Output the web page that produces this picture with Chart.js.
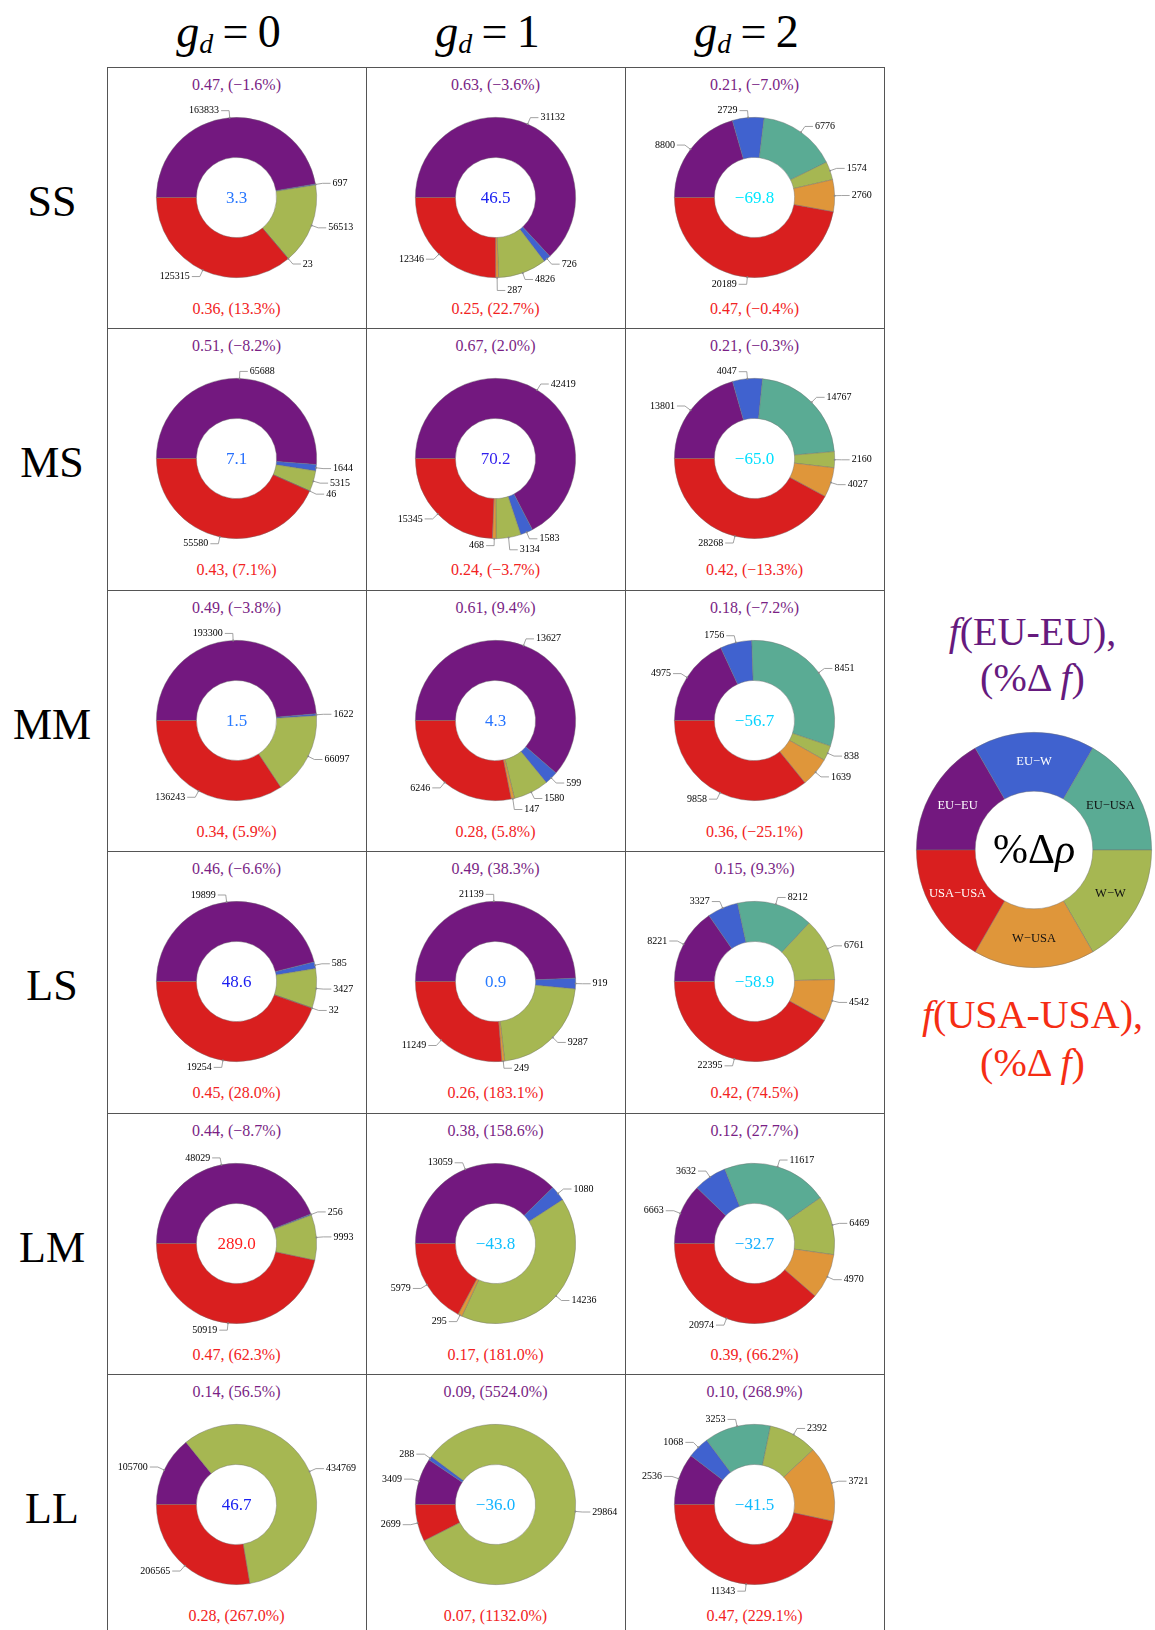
<!DOCTYPE html>
<html>
<head>
<meta charset="utf-8">
<title>Pair composition by g_d</title>
<script src="https://cdn.jsdelivr.net/npm/chart.js@4"></script>
<style>
  body{margin:0;background:#fff;width:1155px;height:1630px;overflow:hidden;position:relative;
       font-family:'Liberation Serif','Times New Roman',serif;}
  .abs{position:absolute;}
  .hline{position:absolute;height:1px;background:#555;}
  .vline{position:absolute;width:1px;background:#555;}
  .ctext{position:absolute;width:259px;text-align:center;font-size:16px;line-height:20px;white-space:nowrap;}
  .top{color:#7a1f85;} .bot{color:#f22222;}
  .head{position:absolute;width:200px;text-align:center;font-size:46px;line-height:60px;white-space:nowrap;}
  .row{position:absolute;left:2px;width:100px;text-align:center;font-size:44px;line-height:50px;}
  .ttl{position:absolute;left:905px;width:255px;text-align:center;font-size:40px;line-height:46px;white-space:nowrap;}
</style>
</head>
<body>
<div id="page"></div>
<script>
// slice order, clockwise from 9 o'clock
const pairTypes = ['EU−EU', 'EU−W', 'EU−USA', 'W−W', 'W−USA', 'USA−USA'];
const rowNames = ['SS', 'MS', 'MM', 'LS', 'LM', 'LL'];
const gdLabels = ['0', '1', '2'];

// pair counts, one list per g_d column, in pairTypes order
const countsSS = [[163833, 697, 0, 56513, 23, 125315], [31132, 726, 0, 4826, 287, 12346], [8800, 2729, 6776, 1574, 2760, 20189]];
const countsMS = [[65688, 1644, 0, 5315, 46, 55580], [42419, 1583, 0, 3134, 468, 15345], [13801, 4047, 14767, 2160, 4027, 28268]];
const countsMM = [[193300, 1622, 0, 66097, 0, 136243], [13627, 599, 0, 1580, 147, 6246], [4975, 1756, 8451, 838, 1639, 9858]];
const countsLS = [[19899, 585, 0, 3427, 32, 19254], [21139, 919, 0, 9287, 249, 11249], [8221, 3327, 8212, 6761, 4542, 22395]];
const countsLM = [[48029, 256, 0, 9993, 0, 50919], [13059, 1080, 0, 14236, 295, 5979], [6663, 3632, 11617, 6469, 4970, 20974]];
const countsLL = [[105700, 0, 0, 434769, 0, 206565], [3409, 288, 0, 29864, 0, 2699], [2536, 1068, 3253, 2392, 3721, 11343]];

// f(EU-EU), %delta f ; f(USA-USA), %delta f ; %delta rho  (rows x g_d)
const fEUEU = [[0.47, 0.63, 0.21], [0.51, 0.67, 0.21], [0.49, 0.61, 0.18], [0.46, 0.49, 0.15], [0.44, 0.38, 0.12], [0.14, 0.09, 0.10]];
const dfEUEU = [[-1.6, -3.6, -7.0], [-8.2, 2.0, -0.3], [-3.8, 9.4, -7.2], [-6.6, 38.3, 9.3], [-8.7, 158.6, 27.7], [56.5, 5524.0, 268.9]];
const fUSAUSA = [[0.36, 0.25, 0.47], [0.43, 0.24, 0.42], [0.34, 0.28, 0.36], [0.45, 0.26, 0.42], [0.47, 0.17, 0.39], [0.28, 0.07, 0.47]];
const dfUSAUSA = [[13.3, 22.7, -0.4], [7.1, -3.7, -13.3], [5.9, 5.8, -25.1], [28.0, 183.1, 74.5], [62.3, 181.0, 66.2], [267.0, 1132.0, 229.1]];
const dRho = [[3.3, 46.5, -69.8], [7.1, 70.2, -65.0], [1.5, 4.3, -56.7], [48.6, 0.9, -58.9], [289.0, -43.8, -32.7], [46.7, -36.0, -41.5]];
const legendShares = [1, 1, 1, 1, 1, 1];

const allCounts = [countsSS, countsMS, countsMM, countsLS, countsLM, countsLL];
const sliceColors = ['#73187f', '#4062cf', '#5aab94', '#a6b752', '#df963a', '#d91f1f'];
const legendTextColors = ['#fff', '#fff', '#111', '#111', '#111', '#fff'];

const SERIF = "'Liberation Serif','Times New Roman',serif";
const colX = [107, 366, 625];
const rowY = [67, 328, 590, 851, 1113, 1374];
const CW = 259;

const minus = (s) => s.replace('-', '−');
const fmt1 = (v) => minus(v.toFixed(1));

function rhoColor(v) {
  const lerp = (a, b, t) => a.map((x, i) => Math.round(x + (b[i] - x) * t));
  const base = [40, 125, 255];
  let c;
  if (v < 0) c = lerp(base, [0, 232, 255], Math.min(-v / 70, 1));
  else if (v <= 50) c = lerp(base, [25, 25, 240], v / 50);
  else if (v <= 100) c = lerp([25, 25, 240], [85, 40, 235], (v - 50) / 50);
  else c = lerp([85, 40, 235], [255, 30, 30], Math.min((v - 100) / 150, 1));
  return 'rgb(' + c.join(',') + ')';
}

// callout labels + centre value
const calloutPlugin = {
  id: 'callouts',
  afterDraw(chart, args, opts) {
    const ctx = chart.ctx;
    const meta = chart.getDatasetMeta(0);
    const values = chart.data.datasets[0].data;
    const items = [];
    let cx = 0, cy = 0;
    meta.data.forEach((arc, i) => {
      const p = arc.getProps(['x', 'y', 'startAngle', 'endAngle', 'outerRadius'], true);
      cx = p.x; cy = p.y;
      const mid = (p.startAngle + p.endAngle) / 2;
      const c = Math.cos(mid), s = Math.sin(mid);
      items.push({
        ax: p.x + c * p.outerRadius, ay: p.y + s * p.outerRadius,
        ex: p.x + c * (p.outerRadius + 7), ey: p.y + s * (p.outerRadius + 7),
        right: c >= 0, text: String(values[i]),
      });
    });
    [true, false].forEach((side) => {
      const arr = items.filter((it) => it.right === side).sort((a, b) => a.ey - b.ey);
      for (let k = 1; k < arr.length; k++) {
        if (arr[k].ey - arr[k - 1].ey < 11) arr[k].ey = arr[k - 1].ey + 11;
      }
    });
    ctx.save();
    ctx.strokeStyle = '#8a8a8a';
    ctx.fillStyle = '#8a8a8a';
    ctx.lineWidth = 0.8;
    items.forEach((it) => {
      const hx = it.ex + (it.right ? 8 : -8);
      ctx.beginPath();
      ctx.moveTo(it.ax, it.ay);
      ctx.lineTo(it.ex, it.ey);
      ctx.lineTo(hx, it.ey);
      ctx.stroke();
      ctx.beginPath();
      ctx.arc(it.ax, it.ay, 1, 0, Math.PI * 2);
      ctx.fill();
    });
    ctx.fillStyle = '#000';
    ctx.font = '10px ' + SERIF;
    ctx.textBaseline = 'middle';
    items.forEach((it) => {
      ctx.textAlign = it.right ? 'left' : 'right';
      ctx.fillText(it.text, it.ex + (it.right ? 10 : -10), it.ey);
    });
    ctx.font = '17px ' + SERIF;
    ctx.textAlign = 'center';
    ctx.fillStyle = rhoColor(opts.rho);
    ctx.fillText(fmt1(opts.rho), cx, cy + 1);
    ctx.restore();
  },
};

// legend: names inside slices + %Δρ in the hole
const legendTextPlugin = {
  id: 'legendText',
  afterDraw(chart) {
    const ctx = chart.ctx;
    const meta = chart.getDatasetMeta(0);
    let cx = 0, cy = 0;
    ctx.save();
    ctx.font = '12.5px ' + SERIF;
    ctx.textAlign = 'center';
    ctx.textBaseline = 'middle';
    meta.data.forEach((arc, i) => {
      const p = arc.getProps(['x', 'y', 'startAngle', 'endAngle', 'innerRadius', 'outerRadius'], true);
      cx = p.x; cy = p.y;
      const mid = (p.startAngle + p.endAngle) / 2;
      const r = (p.innerRadius + p.outerRadius) / 2;
      ctx.fillStyle = legendTextColors[i];
      ctx.fillText(chart.data.labels[i], p.x + Math.cos(mid) * r, p.y + Math.sin(mid) * r);
    });
    ctx.fillStyle = '#000';
    ctx.font = '42px ' + SERIF;
    const a = '%Δ';
    ctx.textAlign = 'left';
    const wa = ctx.measureText(a).width;
    ctx.font = 'italic 42px ' + SERIF;
    const wb = ctx.measureText('ρ').width;
    const x0 = cx - (wa + wb) / 2;
    ctx.font = '42px ' + SERIF;
    ctx.fillText(a, x0, cy + 2);
    ctx.font = 'italic 42px ' + SERIF;
    ctx.fillText('ρ', x0 + wa, cy + 2);
    ctx.restore();
  },
};

const page = document.getElementById('page');
function add(tag, cls, style, html) {
  const el = document.createElement(tag);
  if (cls) el.className = cls;
  Object.assign(el.style, style);
  if (html !== undefined) el.innerHTML = html;
  page.appendChild(el);
  return el;
}

// column headers
gdLabels.forEach((g, j) => {
  add('div', 'head', { left: (colX[j] + CW / 2 - 8 - 100) + 'px', top: '2px' },
    '<i>g</i><i style="font-size:28px;position:relative;top:6px">d</i>\u2009=\u20090'.replace('0', g));
});

// grid lines
add('div', 'vline', { left: colX[0] + 'px', top: rowY[0] + 'px', height: (1630 - rowY[0]) + 'px' });
colX.forEach((x) => add('div', 'vline', { left: (x + CW) + 'px', top: rowY[0] + 'px', height: (1630 - rowY[0]) + 'px' }));
rowY.forEach((y) => add('div', 'hline', { left: colX[0] + 'px', top: y + 'px', width: (3 * CW + 1) + 'px' }));

rowNames.forEach((name, i) => {
  const top = rowY[i];
  const h = i < rowY.length - 1 ? rowY[i + 1] - top : 262;
  add('div', 'row', { top: (top + 110) + 'px' }, name);
  gdLabels.forEach((g, j) => {
    const left = colX[j];
    add('div', 'ctext top', { left: left + 'px', top: (top + 8) + 'px' },
      fEUEU[i][j].toFixed(2) + ', (' + fmt1(dfEUEU[i][j]) + '%)');
    add('div', 'ctext bot', { left: left + 'px', top: (top + 232) + 'px' },
      fUSAUSA[i][j].toFixed(2) + ', (' + fmt1(dfUSAUSA[i][j]) + '%)');

    const cv = add('canvas', 'abs', { left: left + 'px', top: top + 'px' });
    cv.width = CW; cv.height = h;
    const counts = allCounts[i][j];
    const keep = counts.map((v, k) => k).filter((k) => counts[k] > 0);
    new Chart(cv, {
      type: 'doughnut',
      data: {
        labels: keep.map((k) => pairTypes[k]),
        datasets: [{
          data: keep.map((k) => counts[k]),
          backgroundColor: keep.map((k) => sliceColors[k]),
          borderColor: 'rgba(110,110,110,0.6)',
          borderWidth: 0.7,
        }],
      },
      options: {
        responsive: false, animation: false, events: [],
        rotation: -90, cutout: '50%',
        layout: { padding: { left: 49, right: 49, top: 50, bottom: h - 211 } },
        plugins: { legend: { display: false }, tooltip: { enabled: false }, callouts: { rho: dRho[i][j] } },
      },
      plugins: [calloutPlugin],
    });
  });
});

// legend side
add('div', 'ttl', { top: '609px', color: '#661a7e' }, '<i>f</i>(EU-EU),<br>(%Δ\u2009<i>f</i>)');
add('div', 'ttl', { top: '991px', color: '#f52d14', lineHeight: '48px' }, '<i>f</i>(USA-USA),<br>(%Δ\u2009<i>f</i>)');

const lg = add('canvas', 'abs', { left: '910px', top: '726px' });
lg.width = 245; lg.height = 248;
new Chart(lg, {
  type: 'doughnut',
  data: {
    labels: pairTypes,
    datasets: [{ data: legendShares, backgroundColor: sliceColors, borderColor: 'rgba(110,110,110,0.6)', borderWidth: 0.7 }],
  },
  options: {
    responsive: false, animation: false, events: [],
    rotation: -90, cutout: '50%',
    layout: { padding: { left: 6, right: 3, top: 6, bottom: 6 } },
    plugins: { legend: { display: false }, tooltip: { enabled: false } },
  },
  plugins: [legendTextPlugin],
});
</script>
</body>
</html>
